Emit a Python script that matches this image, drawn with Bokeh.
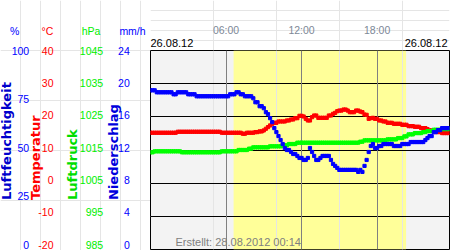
from math import pi
from bokeh.plotting import figure
from bokeh.layouts import row, column
from bokeh.models import Range1d, FixedTicker, Label, Grid, BoxAnnotation
from bokeh.core.properties import value
from bokeh.embed import file_html
from bokeh.resources import INLINE

# ---- data (readings every 10 minutes on 26.08.12) ----
minutes = list(range(0, 1430, 10))
hours = [m / 60 for m in minutes]

humidity_pct = [
    80, 80, 80, 79, 79, 79, 79, 79, 79, 79, 79, 78,
    78, 79, 79, 79, 79, 79, 78, 78, 78, 78, 77, 77,
    77, 77, 77, 77, 77, 77, 77, 77, 77, 77, 77, 77,
    77, 77, 78, 78, 78, 79, 79, 78, 78, 77, 77, 77,
    77, 76, 74, 74, 72, 72, 71, 69, 68, 66, 64, 61,
    59, 57, 55, 53, 51, 50, 50, 49, 48, 48, 47, 46,
    46, 45, 45, 46, 51, 49, 47, 45, 45, 46, 47, 47,
    47, 47, 45, 43, 42, 41, 40, 40, 40, 40, 40, 40,
    40, 40, 40, 39, 40, 39, 42, 45, 49, 52, 53, 51,
    51, 52, 52, 53, 53, 53, 53, 53, 52, 52, 52, 52,
    53, 53, 53, 53, 54, 54, 54, 54, 54, 54, 54, 55,
    56, 57, 57, 59, 59, 60, 60, 61, 61, 61, 61,
]

temperature_c = [
    15.2, 15.2, 15.2, 15.2, 15.2, 15.2, 15.2, 15.2, 15.2, 15.2, 15.2, 15.2,
    15.2, 15.5, 15.5, 15.5, 15.5, 15.5, 15.5, 15.5, 15.5, 15.5, 15.5, 15.5,
    15.5, 15.5, 15.5, 15.5, 15.5, 15.5, 15.5, 15.5, 15.5, 15.5, 15.2, 15.2,
    15.2, 15.2, 15.2, 15.2, 15.2, 15.2, 15.2, 15.2, 14.9, 14.9, 15.2, 15.2,
    15.2, 15.2, 15.4, 15.4, 15.6, 15.6, 15.9, 16.4, 16.9, 17.4, 17.9, 18.2,
    18.2, 18.6, 18.6, 18.6, 18.6, 18.9, 18.9, 19.2, 19.2, 19.6, 19.6, 20.3,
    20.3, 20.1, 19.4, 18.9, 18.9, 19.9, 20.4, 20.4, 19.7, 19.7, 19.7, 19.7,
    19.7, 20.4, 20.4, 20.9, 21.2, 21.7, 21.9, 21.9, 22.2, 22.2, 21.9, 21.4,
    21.4, 21.4, 21.9, 21.9, 21.6, 21.4, 20.7, 20.6, 19.4, 19.6, 19.7, 19.4,
    19.4, 18.9, 18.9, 18.6, 18.6, 18.2, 18.2, 18.2, 17.9, 17.9, 17.9, 17.9,
    17.6, 17.6, 17.6, 17.2, 17.2, 17.2, 17.0, 17.0, 17.0, 16.6, 16.6, 16.6,
    16.3, 15.9, 15.9, 15.6, 15.4, 15.4, 15.4, 15.1, 15.1, 15.1, 15.1,
]

pressure_hpa = [
    1014.3, 1014.3, 1014.6, 1014.6, 1014.6, 1014.6, 1014.6, 1014.6, 1014.6, 1014.6, 1014.6, 1014.6,
    1014.6, 1014.6, 1014.6, 1014.3, 1014.3, 1014.3, 1014.3, 1014.3, 1014.3, 1014.3, 1014.3, 1014.3,
    1014.3, 1014.3, 1014.3, 1014.3, 1014.3, 1014.3, 1014.3, 1014.3, 1014.3, 1014.3, 1014.6, 1014.6,
    1014.6, 1014.6, 1014.6, 1014.6, 1014.6, 1014.6, 1015.0, 1015.0, 1015.0, 1015.0, 1015.0, 1015.4,
    1015.4, 1015.8, 1015.8, 1015.8, 1015.8, 1015.8, 1015.8, 1015.8, 1015.8, 1016.1, 1016.1, 1016.1,
    1016.1, 1016.1, 1016.1, 1016.4, 1016.4, 1016.4, 1016.8, 1016.8, 1016.8, 1016.8, 1017.2, 1017.2,
    1017.2, 1017.2, 1017.2, 1017.2, 1017.2, 1017.2, 1017.2, 1017.2, 1017.2, 1017.2, 1017.2, 1017.2,
    1017.2, 1017.2, 1017.2, 1017.2, 1017.2, 1017.2, 1017.2, 1017.2, 1017.2, 1017.2, 1017.2, 1017.2,
    1017.2, 1017.2, 1017.2, 1017.2, 1017.5, 1017.5, 1017.9, 1017.9, 1017.9, 1017.9, 1017.9, 1017.9,
    1017.9, 1017.9, 1017.9, 1017.9, 1017.9, 1018.2, 1018.2, 1018.2, 1018.2, 1018.2, 1018.6, 1018.6,
    1018.6, 1019.1, 1019.1, 1019.7, 1019.7, 1019.7, 1020.1, 1020.1, 1020.1, 1020.1, 1020.4, 1020.4,
    1020.7, 1020.7, 1020.7, 1021.1, 1021.1, 1021.1, 1021.1, 1021.3, 1021.3, 1021.3, 1021.3,
]

daylight_hours = [6.6, 20.3]          # sunrise / sunset
time_ticks = [6, 12, 18]
time_labels = ["06:00", "12:00", "18:00"]
hum_ticks = [0, 25, 50, 75, 100]
temp_ticks = [-20, -10, 0, 10, 20, 30, 40]
pres_ticks = [985, 995, 1005, 1015, 1025, 1035, 1045]
prec_ticks = [0, 4, 8, 12, 16, 20, 24]
axis_titles = ["Luftfeuchtigkeit", "Temperatur", "Luftdruck", "Niederschlag"]
axis_units = ["%", "°C", "hPa", "mm/h"]
date_text = "26.08.12"
created_text = "Erstellt: 28.08.2012 00:14"

BLUE = "#0000ff"
RED = "#ff0000"
GREEN = "#00ee00"
GREY_T = "#7d8897"
TICK_FONT = value("Liberation Sans")
TICK_SIZE = value("10.5px")

# ---------------- geometry ----------------
LEFT_W = 150          # width of the scale panel
TOP_H = 50            # height of the header strip
FRAME_H = 199         # plot frame height (px)
LABEL_SHIFT = 5       # scale labels sit a little above their grid lines


def label_range(lo, hi):
    """Range for a scale column in the left panel: the panel spans the whole
    250 px height, the frame covers rows 50..249, the labels are compressed
    by LABEL_SHIFT px at the bottom like in the original."""
    lo2 = lo - LABEL_SHIFT * (hi - lo) / (FRAME_H - LABEL_SHIFT)
    s = (hi - lo2) / FRAME_H
    return Range1d(lo2 - 1 * s, hi + TOP_H * s)


# ---------------- left panel: scales ----------------
left = figure(width=LEFT_W, height=250, output_backend="svg",
              toolbar_location=None, title=None,
              x_range=Range1d(0, LEFT_W), y_range=Range1d(250, 0),
              x_axis_location=None, y_axis_location=None,
              min_border=0)
left.outline_line_color = None
left.background_fill_color = "white"
left.border_fill_color = "white"
left.extra_y_ranges = {
    "hum": label_range(hum_ticks[0], hum_ticks[-1]),
    "temp": label_range(temp_ticks[0], temp_ticks[-1]),
    "pres": label_range(pres_ticks[0], pres_ticks[-1]),
    "prec": label_range(prec_ticks[0], prec_ticks[-1]),
}

scale_specs = [
    # range, ticks, colour, right edge of labels, unit centre, title x, title colour
    ("hum", hum_ticks, BLUE, 28.7, 14.2, 6.0, "#0000cc"),
    ("temp", temp_ticks, RED, 53.0, 47.0, 34.5, RED),
    ("pres", pres_ticks, GREEN, 102.7, 90.5, 72.0, "#00dd00"),
    ("prec", prec_ticks, BLUE, 129.3, 132.0, 113.0, "#0000dd"),
]
for (rng, ticks, col, rx, ux, tx, tcol), unit, title in zip(scale_specs, axis_units, axis_titles):
    left.text(x=[rx] * len(ticks), y=ticks, text=[str(t) for t in ticks],
              y_range_name=rng, text_align="right", text_baseline="middle",
              text_color=col, text_font=TICK_FONT, text_font_size=TICK_SIZE)
    left.text(x=[ux], y=[30.5], text=[unit], text_align="center",
              text_baseline="middle", text_color=col, text_font=TICK_FONT,
              text_font_size=TICK_SIZE)
    left.text(x=[tx], y=[199.5], text=[title], angle=pi / 2,
              text_align="left", text_baseline="middle", text_color=tcol,
              text_font=value("DejaVu Sans"), text_font_style="bold",
              text_font_size=value("13px"))

# ---------------- main plot ----------------
p = figure(width=450 - LEFT_W, height=250 - TOP_H, output_backend="svg",
           toolbar_location=None, title=None,
           x_range=Range1d(0, 23.75), y_range=Range1d(-20, 40),
           x_axis_location=None, y_axis_location=None,
           min_border_left=0, min_border_right=1, min_border_top=0,
           min_border_bottom=1)
p.background_fill_color = "#f3f3f3"
p.border_fill_color = "white"
p.outline_line_color = "black"
p.outline_line_alpha = 1.0
p.outline_line_width = 1
p.extra_y_ranges = {"hum": Range1d(0, 100), "pres": Range1d(985, 1045)}

p.add_layout(BoxAnnotation(left=daylight_hours[0], right=daylight_hours[1],
                           fill_color="#ffff99", fill_alpha=1.0,
                           line_color=None, level="image"))
p.add_layout(Grid(dimension=1, ticker=FixedTicker(ticks=temp_ticks),
                  grid_line_color="black", grid_line_width=1))
p.add_layout(Grid(dimension=0, ticker=FixedTicker(ticks=time_ticks),
                  grid_line_color="#808080", grid_line_width=1))

p.scatter(hours, temperature_c, marker="square", size=3.2, color=RED)
p.scatter(hours, pressure_hpa, marker="square", size=3.2, color="#00ff00",
          y_range_name="pres")
p.scatter(hours, humidity_pct, marker="square", size=3.2, color=BLUE,
          y_range_name="hum")

p.add_layout(Label(x=25, y=191, x_units="canvas", y_units="canvas",
                   text=created_text, text_color="#808080",
                   text_align="left", text_baseline="middle",
                   text_font="Liberation Sans", text_font_size="11px"))

# ---------------- header strip above the plot ----------------
head = figure(width=450 - LEFT_W, height=TOP_H, output_backend="svg",
              toolbar_location=None, title=None,
              x_range=p.x_range, y_range=Range1d(TOP_H, 0),
              x_axis_location=None, y_axis_location=None,
              min_border_left=0, min_border_right=1, min_border_top=0,
              min_border_bottom=0)
head.outline_line_color = None
head.background_fill_color = "white"
head.border_fill_color = "white"
head.text(x=time_ticks, y=[29.5] * len(time_ticks), text=time_labels,
          text_align="center", text_baseline="middle", text_color=GREY_T,
          text_font=TICK_FONT, text_font_size=TICK_SIZE)
head.text(x=[0], y=[42.5], text=[date_text], text_align="left",
          text_baseline="middle", text_color="black", text_font=TICK_FONT,
          text_font_size=value("11px"))
head.text(x=[23.75], y=[42.5], text=[date_text], text_align="right",
          x_offset=-2, text_baseline="middle", text_color="black",
          text_font=TICK_FONT, text_font_size=value("11px"))

layout = row(left, column(head, p))
open("out.html", "w").write(file_html(layout, INLINE))
